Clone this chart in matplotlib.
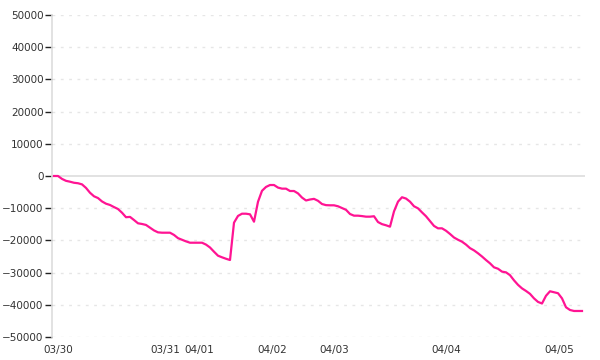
import matplotlib
matplotlib.use("Agg")
import matplotlib.pyplot as plt

values = [
    0, 0, -900, -1500, -1770, -2100, -2250, -2600, -3700, -5200,
    -6300, -6850, -7900, -8600, -9000, -9650, -10250, -11400, -12800, -12700,
    -13670, -14690, -14900, -15200, -16060, -16900, -17500, -17610, -17610, -17610,
    -18300, -19300, -19800, -20300, -20720, -20720, -20720, -20720, -21300, -22200,
    -23510, -24750, -25250, -25700, -26090, -14500, -12400, -11710, -11710, -11900,
    -14190, -8000, -4600, -3400, -2800, -2800, -3600, -3930, -3930, -4660,
    -4660, -5400, -6700, -7600, -7300, -7100, -7700, -8700, -9050, -9100,
    -9100, -9400, -9950, -10500, -11800, -12320, -12320, -12450, -12630, -12630,
    -12500, -14300, -14950, -15300, -15740, -11000, -7970, -6600, -7000, -7970,
    -9400, -10040, -11300, -12500, -14000, -15500, -16250, -16250, -17000, -18000,
    -19100, -19800, -20400, -21300, -22400, -23100, -24000, -25000, -26100, -27120,
    -28360, -28800, -29700, -29920, -30800, -32400, -33800, -34900, -35700, -36600,
    -38000, -39100, -39600, -37200, -35800, -36100, -36400, -38000, -40770, -41610,
    -41920, -41920, -41920,
]
tick_pos = [1, 27.75, 36.25, 54.5, 70.1, 98.1, 126.4]
tick_labels = ["03/30", "03/31", "04/01", "04/02", "04/03", "04/04", "04/05"]
y_ticks = [50000, 40000, 30000, 20000, 10000, 0, -10000, -20000, -30000, -40000, -50000]

fig = plt.figure(figsize=(6, 3.6), dpi=100)
ax = fig.add_axes([52/600, 1-337/360, (585-52)/600, (337-15)/360])

for yv in y_ticks:
    if yv == 0:
        ax.axhline(yv, color="#dddddd", lw=1.2, zorder=1)
    else:
        ax.axhline(yv, color="#e6e6e6", lw=1, ls=(0, (2, 4)), zorder=1)

ax.plot(range(len(values)), values, color="#ff1493", lw=1.6, zorder=3)

ax.set_xlim(-0.5, 132.75)
ax.set_ylim(-50000, 50000)
ax.set_yticks(y_ticks)
ax.set_yticklabels([str(v).replace("-", "\u2212") for v in y_ticks])
ax.set_xticks(tick_pos)
ax.set_xticklabels(tick_labels)

for s in ["top", "right", "bottom"]:
    ax.spines[s].set_visible(False)
ax.spines["left"].set_color("#dddddd")
ax.spines["left"].set_linewidth(1.2)

ax.tick_params(axis="y", length=5, width=1, color="#222222", pad=1,
               labelsize=7.5, labelcolor="#333333")
ax.tick_params(axis="x", length=0, pad=6, labelsize=7.5, labelcolor="#333333")

fig.savefig("out.png", dpi=100)
